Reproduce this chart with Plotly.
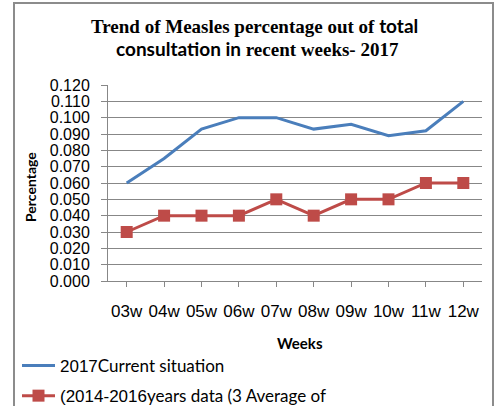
import plotly.graph_objects as go

weeks = ["03w", "04w", "05w", "06w", "07w", "08w", "09w", "10w", "11w", "12w"]
current_2017 = [0.060, 0.075, 0.093, 0.100, 0.100, 0.093, 0.096, 0.089, 0.092, 0.110]
avg_2014_2016 = [0.030, 0.040, 0.040, 0.040, 0.050, 0.040, 0.050, 0.050, 0.060, 0.060]
y_ticks = [round(i * 0.01, 3) for i in range(13)]
y_tick_labels = ["%.3f" % v for v in y_ticks]
title_lines = [
    "<b>Trend of Measles percentage out of <span style=\"font-family:Lato\">total</span></b>",
    "<b><span style=\"font-family:Lato\">consultation in</span> recent weeks- 2017</b>",
]

SANS = "Lato, 'Open Sans', sans-serif"
ARIAL = "'Liberation Sans', Arial, sans-serif"
SERIF = "'Liberation Serif', 'Times New Roman', serif"

fig = go.Figure()
fig.add_trace(go.Scatter(
    x=weeks, y=current_2017, mode="lines",
    name="<span style=\"font-family:'Liberation Sans'\">2017</span>Current situation",
    legendgroup="a",
    line=dict(color="#4A7EBB", width=3),
))
fig.add_trace(go.Scatter(
    x=weeks, y=avg_2014_2016, mode="lines+markers",
    name="<span style=\"font-family:'Liberation Sans'\">(2014-2016</span>years data (3 Average of",
    legendgroup="b",
    line=dict(color="#BE4B48", width=3),
    marker=dict(symbol="square", size=12, color="#BE4B48"),
))

W, H = 497, 406
L, R, T, B = 108, 15, 85, 125
pw = W - L - R
ph = H - T - B

def px_x(x):
    return (x - L) / pw

def px_y(y):
    return (H - B - y) / ph

annotations = [
    dict(text=title_lines[0], xref="paper", yref="paper",
         x=px_x(254), y=px_y(25), xanchor="center", yanchor="middle",
         showarrow=False, font=dict(family=SERIF, size=19, color="black")),
    dict(text=title_lines[1], xref="paper", yref="paper",
         x=px_x(257), y=px_y(48), xanchor="center", yanchor="middle",
         showarrow=False, font=dict(family=SERIF, size=19, color="black")),
    dict(text="<b>Weeks</b>", xref="paper", yref="paper",
         x=px_x(300), y=px_y(343), xanchor="center", yanchor="middle",
         showarrow=False, font=dict(family=SANS, size=15, color="black")),
    dict(text="<b>Percentage</b>", xref="paper", yref="paper",
         x=px_x(30), y=px_y(187), xanchor="center", yanchor="middle",
         textangle=-90, showarrow=False, font=dict(family=SANS, size=14, color="black")),
]

fig.update_layout(
    width=W, height=H,
    margin=dict(l=L, r=R, t=T, b=B, autoexpand=False),
    paper_bgcolor="white", plot_bgcolor="white",
    xaxis=dict(
        type="category",
        automargin=False,
        showgrid=False,
        showline=True, linecolor="#878787", linewidth=1,
        ticks="outside", ticklen=5, tickcolor="#878787",
        tickfont=dict(family=ARIAL, size=17, color="black"),
        ticklabelstandoff=10,
        range=[-0.5, 9.5],
        zeroline=False,
    ),
    yaxis=dict(
        automargin=False,
        range=[0, 0.12],
        tickvals=y_ticks, ticktext=y_tick_labels,
        showgrid=True, gridcolor="#878787", gridwidth=1,
        showline=True, linecolor="#878787", linewidth=1,
        ticks="outside", ticklen=6, tickcolor="#878787",
        tickfont=dict(family=ARIAL, size=16, color="black"),
        ticklabelstandoff=8,
        zeroline=False,
    ),
    annotations=annotations,
    legend=dict(
        x=px_x(17), xanchor="left",
        y=px_y(348), yanchor="top",
        font=dict(family=SANS, size=17, color="black"),
        bgcolor="rgba(0,0,0,0)",
        itemwidth=33,
        tracegroupgap=5,
    ),
    shapes=[dict(
        type="rect", xref="paper", yref="paper",
        x0=px_x(14), x1=px_x(493), y0=px_y(430), y1=px_y(3),
        line=dict(color="#8C8C8C", width=2), fillcolor="rgba(0,0,0,0)", layer="below",
    )],
)

fig.write_html(
    "out.html",
    config={"displayModeBar": False},
    post_script="document.body.style.margin='0';document.body.style.overflow='hidden';",
)
